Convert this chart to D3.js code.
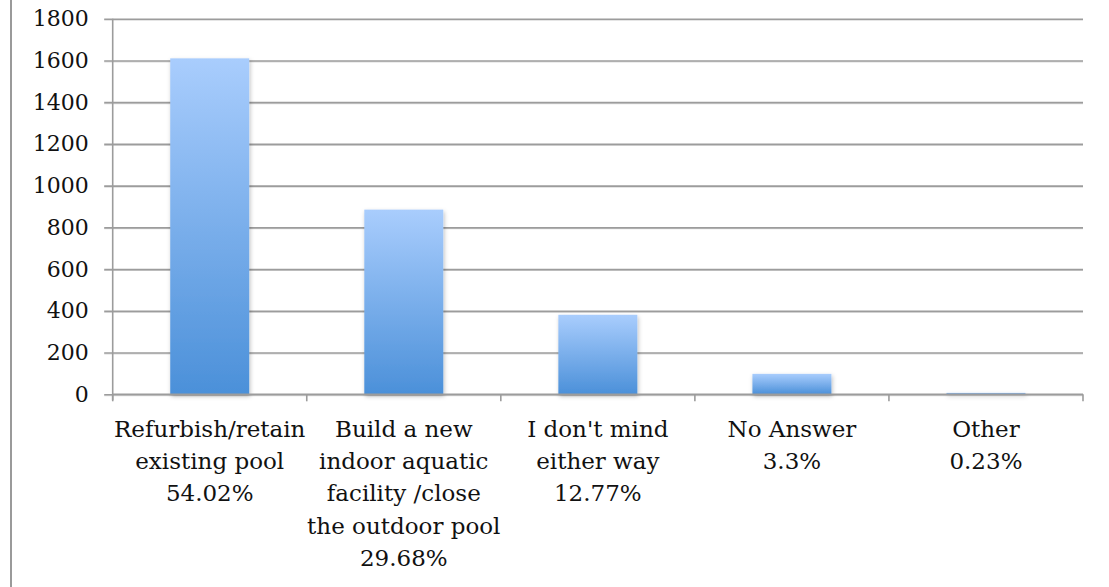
<!DOCTYPE html>
<html>
<head>
<meta charset="utf-8">
<script src="https://cdn.jsdelivr.net/npm/d3@7"></script>
<style>
  html, body { margin: 0; padding: 0; background: #fff; }
  svg { display: block; }
  text { font-family: "DejaVu Serif", "Liberation Serif", serif; fill: #111; }
</style>
</head>
<body>
<svg id="chart" width="1109" height="587"></svg>
<script>
// Survey responses: what should happen to the pool
const categories = ["Refurbish/retain existing pool", "Build a new indoor aquatic facility /close the outdoor pool", "I don't mind either way", "No Answer", "Other"];
const labelLines = [
  ["Refurbish/retain", "existing pool"],
  ["Build a new", "indoor aquatic", "facility /close", "the outdoor pool"],
  ["I don't mind", "either way"],
  ["No Answer"],
  ["Other"]
];
const percents = ["54.02%", "29.68%", "12.77%", "3.3%", "0.23%"];
const counts = [1610, 885, 381, 98, 7];
const yTicks = [0, 200, 400, 600, 800, 1000, 1200, 1400, 1600, 1800];

const svg = d3.select("#chart");
const W = 1109, H = 587;
const plot = { left: 112.7, right: 1083, top: 18.7, bottom: 394.3 };
const axisColor = "#9c9c9c";

const x = d3.scaleBand()
  .domain(categories)
  .range([plot.left, plot.right])
  .paddingInner(0.593)
  .paddingOuter(0.2965);

const y = d3.scaleLinear()
  .domain([0, 1800])
  .range([plot.bottom, plot.top]);

const defs = svg.append("defs");
const grad = defs.append("linearGradient")
  .attr("id", "barFill")
  .attr("x1", 0).attr("y1", 0).attr("x2", 0).attr("y2", 1);
grad.append("stop").attr("offset", "0%").attr("stop-color", "#a9cdfd");
grad.append("stop").attr("offset", "100%").attr("stop-color", "#4b90d9");

const shadow = defs.append("filter").attr("id", "barShadow")
  .attr("filterUnits", "userSpaceOnUse")
  .attr("x", 0).attr("y", 0).attr("width", W).attr("height", H);
shadow.append("feDropShadow")
  .attr("dx", 1).attr("dy", 2).attr("stdDeviation", 2)
  .attr("flood-color", "#000").attr("flood-opacity", 0.25);

// outer frame edge on the left
svg.append("line")
  .attr("x1", 11).attr("x2", 11).attr("y1", 0).attr("y2", H)
  .attr("stroke", "#9a9a9a").attr("stroke-width", 2);

// horizontal gridlines: soft shadow first, then the line itself
svg.append("g")
  .selectAll("line")
  .data(yTicks)
  .join("line")
  .attr("x1", plot.left - 8.5).attr("x2", plot.right)
  .attr("y1", d => y(d) + 1.4).attr("y2", d => y(d) + 1.4)
  .attr("stroke", "#dcdcdc").attr("stroke-width", 1.2);

const yAxis = d3.axisLeft(y)
  .tickValues(yTicks)
  .tickSize(plot.right - plot.left + 8.5)
  .tickPadding(14)
  .tickFormat(d3.format("d"));

const gy = svg.append("g")
  .attr("transform", `translate(${plot.right},0)`)
  .call(yAxis);
gy.select(".domain").remove();
gy.selectAll(".tick line")
  .attr("stroke", axisColor).attr("stroke-width", 1.6);
gy.selectAll(".tick text")
  .attr("x", -(plot.right - plot.left) - 24)
  .style("font-family", "'DejaVu Serif', serif")
  .style("font-size", "22px")
  .attr("fill", "#111");

// vertical value axis line
svg.append("line")
  .attr("x1", plot.left).attr("x2", plot.left)
  .attr("y1", plot.top).attr("y2", plot.bottom + 6)
  .attr("stroke", axisColor).attr("stroke-width", 1.6);

// bars
svg.append("g")
  .selectAll("rect")
  .data(categories)
  .join("rect")
  .attr("x", d => x(d))
  .attr("width", x.bandwidth())
  .attr("y", (d, i) => y(counts[i]))
  .attr("height", (d, i) => y(0) - y(counts[i]))
  .attr("fill", "url(#barFill)")
  .attr("filter", "url(#barShadow)");

// category axis: baseline and boundary ticks
const step = x.step();
const boundaries = d3.range(categories.length + 1).map(i => plot.left + i * step);
svg.append("line")
  .attr("x1", plot.left).attr("x2", plot.right)
  .attr("y1", plot.bottom).attr("y2", plot.bottom)
  .attr("stroke", axisColor).attr("stroke-width", 1.6);
svg.append("g")
  .selectAll("line")
  .data(boundaries)
  .join("line")
  .attr("x1", d => d).attr("x2", d => d)
  .attr("y1", plot.bottom).attr("y2", plot.bottom + 7)
  .attr("stroke", axisColor).attr("stroke-width", 1.6);

// category labels, with the share on the last line
const lbl = svg.append("g")
  .selectAll("text")
  .data(categories)
  .join("text")
  .attr("text-anchor", "middle")
  .style("font-size", "23px")
  .attr("x", d => x(d) + x.bandwidth() / 2)
  .attr("y", 437);
lbl.each(function(d, i) {
  const t = d3.select(this);
  const lines = labelLines[i].concat([percents[i]]);
  lines.forEach((s, j) => {
    t.append("tspan")
      .attr("x", x(d) + x.bandwidth() / 2)
      .attr("dy", j === 0 ? 0 : 32.2)
      .text(s);
  });
});
</script>
</body>
</html>
